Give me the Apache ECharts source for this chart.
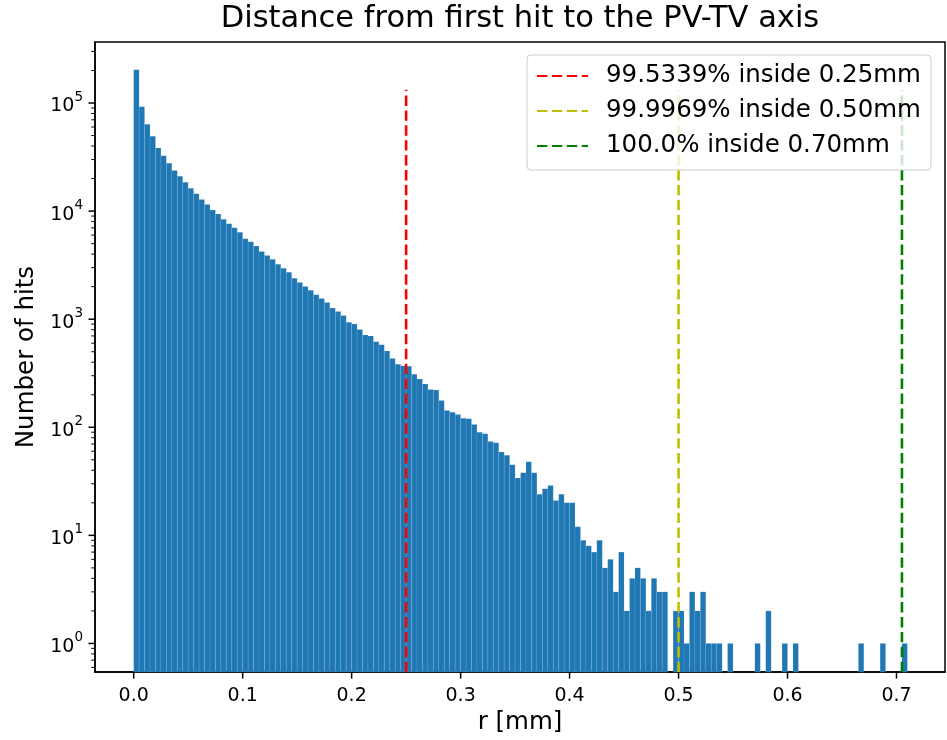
<!DOCTYPE html>
<html><head><meta charset="utf-8">
<script src="https://cdn.jsdelivr.net/npm/echarts@6/dist/echarts.min.js"></script>
<style>html,body{margin:0;padding:0;background:#fff}#c{width:947px;height:740px}</style>
</head><body><div id="c"></div>
<script>
// ---- data ----
const binStart = 0;
const binWidth = 0.005;
const counts = [
 203000, 92300, 63500, 49200, 38400, 32500, 27700, 23700, 21000, 18500,
 16300, 14450, 12800, 11500, 10230, 9400, 8400, 7620, 7000, 6380,
 5550, 5210, 4750, 4220, 3880, 3580, 3220, 2960, 2720, 2390,
 2190, 2010, 1850, 1680, 1550, 1430, 1270, 1180, 1080, 938,
 905, 803, 713, 698, 619, 581, 508, 432, 383, 370,
 367, 310, 279, 251, 224, 221, 177, 143, 138, 131,
 121, 120, 106, 90, 87, 74, 72, 59, 55, 45,
 34, 38, 48, 38, 24, 27, 29, 21, 24, 20,
 20, 12, 9, 8, 7, 9, 5, 6, 3, 7,
 2, 4, 5, 4, 2, 4, 3, 3, 0, 2,
 2, 1, 3, 2, 3, 1, 1, 1, 0, 1,
 0, 0, 0, 0, 1, 0, 2, 0, 0, 1,
 0, 1, 0, 0, 0, 0, 0, 0, 0, 0,
 0, 0, 0, 1, 0, 0, 0, 1, 0, 0,
 0, 1
];
const xTickValues = [0.0, 0.1, 0.2, 0.3, 0.4, 0.5, 0.6, 0.7];
const yMajorTicks = [1, 10, 100, 1000, 10000, 100000];
const yMinorTicks = [0.6, 0.7, 0.8, 0.9,
  2, 3, 4, 5, 6, 7, 8, 9,
  20, 30, 40, 50, 60, 70, 80, 90,
  200, 300, 400, 500, 600, 700, 800, 900,
  2000, 3000, 4000, 5000, 6000, 7000, 8000, 9000,
  20000, 30000, 40000, 50000, 60000, 70000, 80000, 90000,
  200000, 300000];
const thresholdX = [0.25, 0.5, 0.705];
const thresholdNames = ['99.5339% inside 0.25mm', '99.9969% inside 0.50mm', '100.0% inside 0.70mm'];
const thresholdColors = ['#ff0000', '#bfbf00', '#008000'];
const vlineTop = 133000;
const xMin = -0.0355, xMax = 0.7445, yMin = 0.543, yMax = 367000;

// ---- chart ----
const FONT = 'DejaVu Sans';
const chart = echarts.init(document.getElementById('c'), null, {renderer: 'canvas'});

const histData = [];
counts.forEach((c, i) => { if (c > 0) histData.push([binStart + i * binWidth, binStart + (i + 1) * binWidth, c]); });

const yTickData = yMajorTicks.map(v => [0, v, 1]).concat(yMinorTicks.map(v => [0, v, 0]));
const xTickData = xTickValues.map(v => [v, 1]);

const series = [
  {
    type: 'custom', name: 'hist', z: 2,
    data: histData,
    encode: {x: [0, 1], y: 2},
    renderItem: function (params, api) {
      const x0 = api.value(0), x1 = api.value(1), c = api.value(2);
      const p0 = api.coord([x0, c]);
      const p1 = api.coord([x1, c]);
      const cs = params.coordSys;
      const bottom = cs.y + cs.height;
      return {type: 'rect', shape: {x: p0[0], y: p0[1], width: p1[0] - p0[0], height: bottom - p0[1]},
        style: {fill: '#1f77b4', stroke: 'rgba(255,255,255,0.18)', lineWidth: 0.5}};
    }
  },
  {
    type: 'custom', name: 'yticks', z: 10, clip: false, silent: true,
    data: yTickData,
    encode: {x: 0, y: 1},
    renderItem: function (params, api) {
      const p = api.coord([xMin, api.value(1)]);
      const cs = params.coordSys;
      const major = api.value(2) === 1;
      const len = major ? 6.5 : 3.7;
      return {type: 'line', shape: {x1: cs.x - len, y1: p[1], x2: cs.x, y2: p[1]},
        style: {stroke: '#000', lineWidth: major ? 1.5 : 1}};
    }
  },
  {
    type: 'custom', name: 'xticks', z: 10, clip: false, silent: true,
    data: xTickData,
    encode: {x: 0, y: 1},
    renderItem: function (params, api) {
      const p = api.coord([api.value(0), yMin]);
      const cs = params.coordSys;
      const y = cs.y + cs.height;
      return {type: 'line', shape: {x1: p[0], y1: y, x2: p[0], y2: y + 6.5},
        style: {stroke: '#000', lineWidth: 1.5}};
    }
  }
];
thresholdX.forEach((x, i) => {
  series.push({
    type: 'line', name: thresholdNames[i], z: 5,
    data: [[x, yMin], [x, vlineTop]],
    symbol: 'none', silent: true,
    lineStyle: {color: thresholdColors[i], width: 2.6, type: [10.4, 4.5]},
    itemStyle: {color: thresholdColors[i]}
  });
});

chart.setOption({
  animation: false,
  backgroundColor: '#fff',
  textStyle: {fontFamily: FONT},
  title: {
    text: 'Distance from first hit to the PV-TV axis',
    left: 520, top: 4, padding: 0, textAlign: 'center',
    textStyle: {fontFamily: FONT, fontSize: 30.5, fontWeight: 'normal', color: '#000'}
  },
  legend: {
    data: thresholdNames,
    orient: 'vertical',
    left: 527, top: 55, z: 20,
    padding: [6, 10, 9, 9],
    itemWidth: 51, itemHeight: 14, itemGap: 5,
    backgroundColor: 'rgba(255,255,255,0.8)',
    borderColor: '#cccccc', borderWidth: 1, borderRadius: 4,
    itemStyle: {opacity: 0, borderWidth: 0},
    textStyle: {fontFamily: FONT, fontSize: 24.5, color: '#000', lineHeight: 30, padding: [0, 0, 0, 13]}
  },
  grid: {left: 95, right: 2, top: 42, bottom: 65, show: true, borderColor: '#000', borderWidth: 1.5, backgroundColor: 'transparent'},
  xAxis: {
    type: 'value', min: xMin, max: xMax, splitNumber: 8,
    name: 'r [mm]', nameLocation: 'middle', nameGap: 32,
    nameTextStyle: {fontFamily: FONT, fontSize: 24.5, color: '#000'},
    axisLine: {show: true, onZero: false, lineStyle: {color: '#000', width: 1.5}},
    axisTick: {show: false},
    splitLine: {show: false},
    axisLabel: {
      margin: 14, fontFamily: FONT, fontSize: 19, color: '#000',
      showMinLabel: false, showMaxLabel: false,
      formatter: function (v) {
        const k = Math.round(v * 10);
        if (Math.abs(v * 10 - k) > 1e-6) return '';
        return (k / 10).toFixed(1);
      }
    }
  },
  yAxis: {
    type: 'log', min: yMin, max: yMax, logBase: 10,
    name: 'Number of hits', nameLocation: 'middle', nameGap: 55, nameRotate: 90,
    nameTextStyle: {fontFamily: FONT, fontSize: 24.5, color: '#000'},
    axisLine: {show: true, onZero: false, lineStyle: {color: '#000', width: 1.5}},
    axisTick: {show: false},
    splitLine: {show: false},
    minorTick: {show: false},
    axisLabel: {
      margin: 12, color: '#000',
      formatter: function (v) {
        const e = Math.log10(v);
        const r = Math.round(e);
        if (Math.abs(e - r) > 1e-6) return '';
        return '{b|10}{s|' + r + '}';
      },
      rich: {
        b: {fontFamily: FONT, fontSize: 19, color: '#000', lineHeight: 26, verticalAlign: 'bottom'},
        s: {fontFamily: FONT, fontSize: 13.5, color: '#000', lineHeight: 26, verticalAlign: 'top'}
      }
    }
  },
  series: series
});
</script></body></html>
